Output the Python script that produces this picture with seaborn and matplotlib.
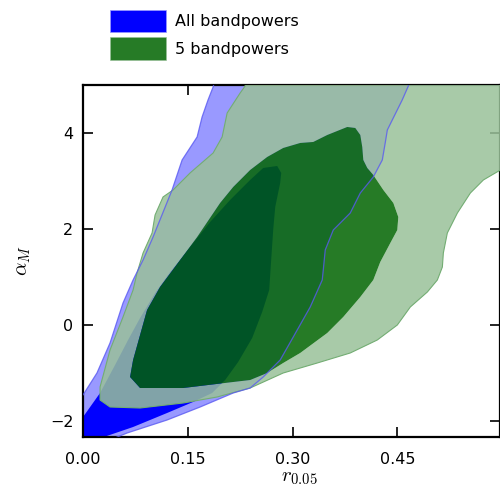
import numpy as np
import matplotlib
matplotlib.use("Agg")
import matplotlib.pyplot as plt
from matplotlib.path import Path
from matplotlib.patches import PathPatch, Patch
import seaborn as sns

# ---- data: contour outlines (r_0.05, alpha_M) ----
blue_outer_r = [-0.019, -0.019, 0.000, 0.020, 0.0387, 0.0573, 0.0717, 0.086, 0.1003, 0.1275,
                0.1419, 0.1634, 0.1705, 0.179, 0.1863, 0.1906, 0.4686, 0.4658, 0.457, 0.4357,
                0.4329, 0.4285, 0.4156, 0.397, 0.3826, 0.3583, 0.3468, 0.344, 0.3425, 0.3253,
                0.301, 0.2823, 0.258, 0.2393, 0.215, 0.1677, 0.1204, 0.0631, 0.0387, 0.0244]
blue_outer_a = [-2.604, -1.458, -1.458, -1.0, -0.375, 0.458, 0.9375, 1.354, 1.833, 2.8125,
                3.4375, 3.917, 4.333, 4.6875, 4.958, 5.208, 5.208, 4.979, 4.6875, 4.0625,
                3.8125, 3.4375, 3.083, 2.75, 2.333, 1.979, 1.5625, 1.146, 0.9375, 0.375,
                -0.25, -0.729, -1.083, -1.3125, -1.4167, -1.7083, -1.979, -2.25, -2.396, -2.604]

blue_inner_r = [-0.019, -0.019, 0.000, 0.0244, 0.0459, 0.0645, 0.0817, 0.1032, 0.1247, 0.1533,
                0.182, 0.2106, 0.2393, 0.258, 0.278, 0.2838, 0.2823, 0.2752, 0.2723, 0.2694,
                0.2666, 0.2565, 0.2422, 0.2221, 0.2035, 0.1849, 0.1576, 0.1204, 0.0717, 0.0172, 0.010]
blue_inner_a = [-2.604, -1.917, -1.917, -1.417, -0.833, -0.3125, 0.146, 0.667, 1.104, 1.625,
                2.146, 2.604, 3.021, 3.271, 3.3125, 3.167, 2.958, 2.458, 1.979, 1.354,
                0.729, 0.271, -0.271, -0.771, -1.146, -1.417, -1.604, -1.833, -2.125, -2.396, -2.604]

green_outer_r = [0.2322, 0.2322, 0.225, 0.2064, 0.1992, 0.1863, 0.1533, 0.129, 0.1146, 0.1032,
                 0.0989, 0.086, 0.0774, 0.0717, 0.0573, 0.0387, 0.0244, 0.0244, 0.0387, 0.0817,
                 0.1433, 0.192, 0.2393, 0.2866, 0.3353, 0.3826, 0.4213, 0.45, 0.4686, 0.493,
                 0.5073, 0.5145, 0.5159, 0.5216, 0.536, 0.5546, 0.5732, 0.5976, 0.619, 0.619]
green_outer_a = [5.208, 4.979, 4.833, 4.417, 3.917, 3.583, 3.167, 2.8125, 2.667, 2.292,
                 1.917, 1.5, 1.083, 0.729, 0.167, -0.521, -1.292, -1.5625, -1.708, -1.729,
                 -1.625, -1.5, -1.3125, -1.0, -0.792, -0.583, -0.3125, 0.0, 0.375, 0.6875,
                 0.9375, 1.208, 1.5, 1.917, 2.333, 2.75, 3.021, 3.229, 3.4375, 5.208]

green_inner_r = [0.0674, 0.0817, 0.1433, 0.215, 0.2393, 0.2637, 0.2866, 0.311, 0.3497, 0.3726,
                 0.397, 0.4156, 0.4256, 0.44, 0.45, 0.4514, 0.4443, 0.43, 0.4156, 0.407,
                 0.4013, 0.3998, 0.397, 0.3898, 0.3783, 0.3497, 0.3296, 0.311, 0.2866, 0.2637,
                 0.2393, 0.215, 0.1963, 0.1634, 0.139, 0.1103, 0.0917, 0.0717]
green_inner_a = [-1.083, -1.3125, -1.3125, -1.1875, -1.146, -1.0, -0.792, -0.583, -0.167, 0.167,
                 0.583, 0.9375, 1.3125, 1.708, 1.979, 2.25, 2.542, 2.8125, 3.125, 3.271,
                 3.4375, 3.708, 3.958, 4.104, 4.125, 3.958, 3.8125, 3.792, 3.6875, 3.5,
                 3.229, 2.875, 2.542, 1.833, 1.354, 0.792, 0.3125, -0.729]

labels = ["All bandpowers", "5 bandpowers"]
x_ticks = [0.0, 0.15, 0.30, 0.45]
x_tick_labels = ["0.00", "0.15", "0.30", "0.45"]
y_ticks = [-2, 0, 2, 4]
x_limits = (0.0, 0.597)
y_limits = (-2.333, 5.0)

# ---- style ----
sns.set_style("ticks")
plt.rcParams["font.family"] = ["DejaVu Sans"]
plt.rcParams["mathtext.fontset"] = "cm"
plt.rcParams["text.color"] = "black"
plt.rcParams["axes.labelcolor"] = "black"
plt.rcParams["xtick.color"] = "black"
plt.rcParams["ytick.color"] = "black"

BLUE = (0.0, 0.0, 1.0)
BLUE_LIGHT = (0.6, 0.6, 1.0)
DKGREEN = (0.0, 100 / 255, 0.0)
DKGREEN_LIGHT = (0.6, (0.6 * 255 + 0.4 * 100) / 255, 0.6)
ADD_ALPHA = 0.85


def closed(xs, ys, ccw):
    pts = np.column_stack([xs, ys])
    area = 0.5 * np.sum(pts[:, 0] * np.roll(pts[:, 1], -1) - np.roll(pts[:, 0], -1) * pts[:, 1])
    if (area > 0) != ccw:
        pts = pts[::-1]
    return np.vstack([pts, pts[:1]])


def region_path(outer, hole=None):
    verts = [closed(*outer, True)]
    if hole is not None:
        verts.append(closed(*hole, False))
    codes = []
    for v in verts:
        c = np.full(len(v), Path.LINETO)
        c[0] = Path.MOVETO
        c[-1] = Path.CLOSEPOLY
        codes.append(c)
    return Path(np.vstack(verts), np.concatenate(codes))


fig = plt.figure(figsize=(5.0, 4.94), dpi=100)
ax = fig.add_axes([0.166, 0.1154, 0.834, 0.7126])

# first set (opaque)
ax.add_patch(PathPatch(region_path((blue_outer_r, blue_outer_a)), facecolor=BLUE_LIGHT,
                       edgecolor="none", zorder=1))
ax.add_patch(PathPatch(region_path((blue_inner_r, blue_inner_a)), facecolor=BLUE,
                       edgecolor="none", zorder=2))
# second set (added with transparency)
ax.add_patch(PathPatch(region_path((green_outer_r, green_outer_a), (green_inner_r, green_inner_a)),
                       facecolor=DKGREEN_LIGHT, alpha=ADD_ALPHA, edgecolor="none", zorder=3))
ax.add_patch(PathPatch(region_path((green_inner_r, green_inner_a)), facecolor=DKGREEN,
                       alpha=ADD_ALPHA, edgecolor="none", zorder=4))

# contour edges
go = closed(green_outer_r, green_outer_a, True)
sns.lineplot(x=go[:, 0], y=go[:, 1], sort=False, estimator=None, ax=ax,
             color=(0.45, 0.68, 0.45), lw=0.8, zorder=5)
bo = closed(blue_outer_r, blue_outer_a, True)
sns.lineplot(x=bo[:, 0], y=bo[:, 1], sort=False, estimator=None, ax=ax,
             color=(0.35, 0.35, 0.95), lw=0.9, alpha=0.8, zorder=6)

ax.set_xlim(*x_limits)
ax.set_ylim(*y_limits)
ax.set_xticks(x_ticks)
ax.set_xticklabels(x_tick_labels)
ax.set_yticks(y_ticks)
ax.tick_params(axis="both", which="major", direction="in", length=7, width=1.2,
               labelsize=11.5, top=True, right=True, color="black", labelcolor="black")
ax.tick_params(axis="x", pad=11)
ax.tick_params(axis="y", pad=7)
for s in ax.spines.values():
    s.set_linewidth(1.6)
    s.set_color("black")

ax.set_xlabel(r"$r_{0.05}$", fontsize=15, color="black")
ax.set_ylabel(r"$\alpha_M$", fontsize=15, color="black")
ax.xaxis.set_label_coords(0.519, -0.085)
ax.yaxis.set_label_coords(-0.12, 0.5)

handles = [Patch(facecolor=BLUE, edgecolor=BLUE_LIGHT, lw=0.5),
           Patch(facecolor=DKGREEN, alpha=ADD_ALPHA, edgecolor=DKGREEN_LIGHT, lw=0.5)]
leg = fig.legend(handles, labels, loc="upper left", bbox_to_anchor=(0.22, 0.98),
                 frameon=False, fontsize=11.5, handlelength=3.5, handleheight=1.8,
                 handletextpad=0.55, labelspacing=0.3, borderpad=0, borderaxespad=0)
for t in leg.get_texts():
    t.set_color("black")

fig.savefig("out.png", dpi=100)
